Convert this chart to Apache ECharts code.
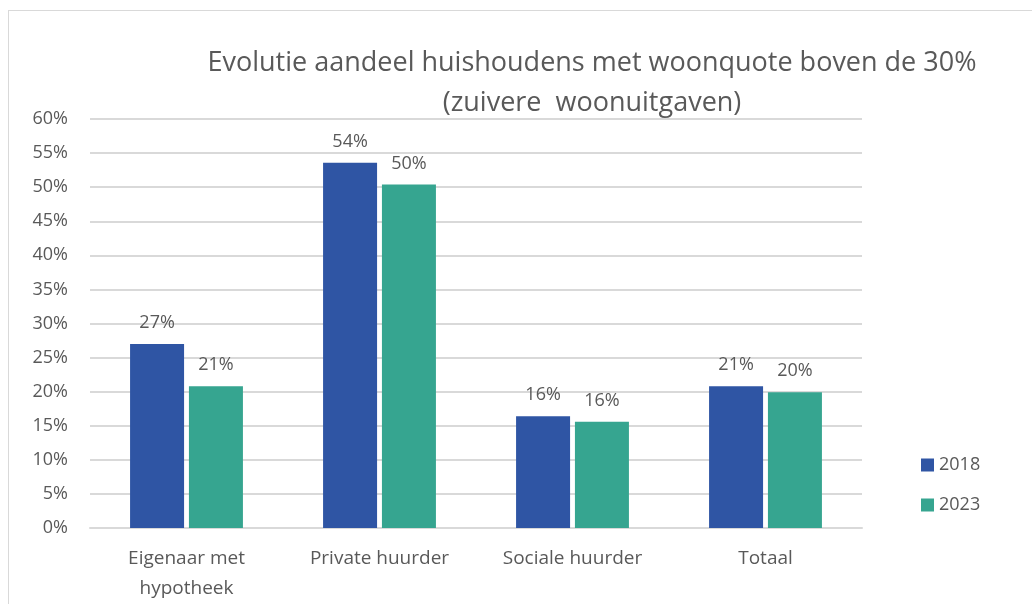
<!DOCTYPE html>
<html>
<head>
<meta charset="utf-8">
<script src="https://cdn.jsdelivr.net/npm/echarts@6/dist/echarts.min.js"></script>
<style>
  html, body { margin: 0; padding: 0; background: #fff; overflow: hidden; width: 1032px; height: 604px; }
  #chart { position: absolute; left: 0; top: 0; width: 1032px; height: 604px; }
  #frame { position: absolute; left: 8px; top: 10px; width: 1030px; height: 600px; border: 1px solid #d9d9d9; }
</style>
</head>
<body>
<div id="frame"></div>
<div id="chart"></div>
<script>
var categories = ['Eigenaar met\nhypotheek', 'Private huurder', 'Sociale huurder', 'Totaal'];
var values2018 = [27.0, 53.6, 16.4, 20.8];
var values2023 = [20.8, 50.4, 15.6, 19.9];
var yTicks = [0, 5, 10, 15, 20, 25, 30, 35, 40, 45, 50, 55, 60];

var chart = echarts.init(document.getElementById('chart'));
var fontFam = 'Open Sans';
var grey = '#595959';

var labelOpt = {
    show: true,
    position: 'top',
    distance: 12,
    color: grey,
    fontFamily: fontFam,
    fontSize: 18,
    formatter: function (p) { return Math.round(p.value) + '%'; }
};

var opt = {
    animation: false,
    title: {
        text: 'Evolutie aandeel huishoudens met woonquote boven de 30%\n(zuivere  woonuitgaven)',
        left: 587,
        textAlign: 'center',
        top: 38,
        textStyle: {
            color: grey,
            fontFamily: fontFam,
            fontWeight: 'normal',
            fontSize: 27,
            lineHeight: 40
        }
    },
    legend: {
        orient: 'vertical',
        left: 916,
        top: 451,
        itemWidth: 13,
        itemHeight: 13,
        itemGap: 22,
        icon: 'rect',
        textStyle: { color: grey, fontFamily: fontFam, fontSize: 18 },
        data: ['2018', '2023']
    },
    grid: { left: 90, right: 170, top: 119, bottom: 74, containLabel: false },
    xAxis: {
        type: 'category',
        data: categories,
        axisLine: { lineStyle: { color: '#d9d9d9', width: 2 } },
        axisTick: { show: false },
        axisLabel: {
            color: grey,
            fontFamily: fontFam,
            fontSize: 19,
            lineHeight: 30,
            margin: 16,
            interval: 0
        }
    },
    yAxis: {
        type: 'value',
        min: yTicks[0],
        max: yTicks[yTicks.length - 1],
        interval: 5,
        axisLine: { show: false },
        axisTick: { show: false },
        splitLine: { lineStyle: { color: '#d9d9d9', width: 2 } },
        axisLabel: {
            color: grey,
            fontFamily: fontFam,
            fontSize: 18,
            margin: 22,
            formatter: '{value}%'
        }
    },
    series: [
        {
            name: '2018',
            type: 'bar',
            data: values2018,
            barWidth: 54,
            barGap: '9%',
            itemStyle: { color: '#2F55A4' },
            label: labelOpt
        },
        {
            name: '2023',
            type: 'bar',
            data: values2023,
            barWidth: 54,
            itemStyle: { color: '#36A590' },
            label: labelOpt
        }
    ]
};

chart.setOption(opt);
</script>
</body>
</html>
